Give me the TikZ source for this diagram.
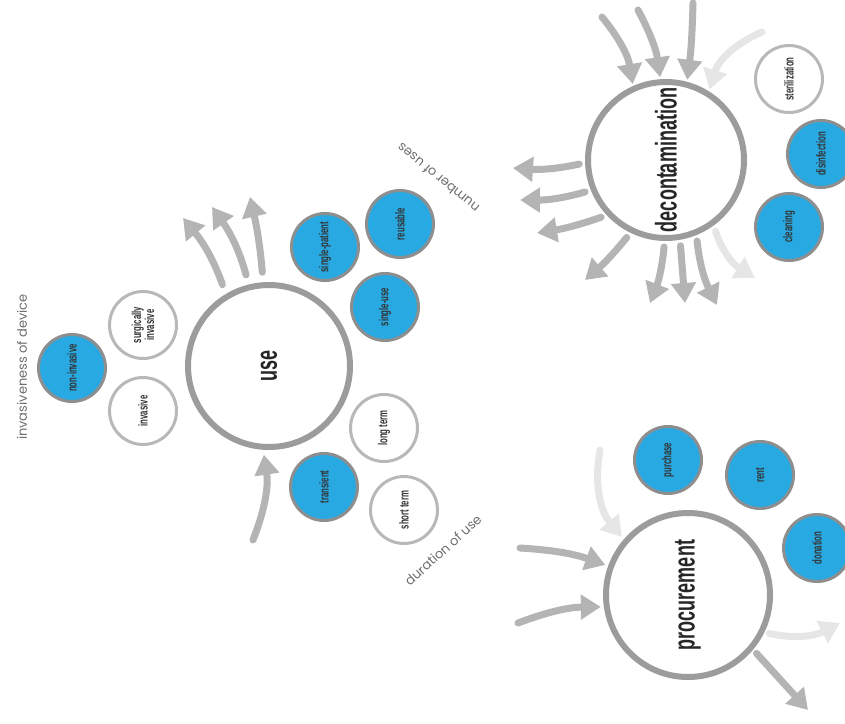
\documentclass[tikz,border=0pt]{standalone}
\usepackage{fontspec}
\usetikzlibrary{arrows.meta, positioning}
\newfontfamily\condfont[FakeStretch=0.6]{Liberation Sans}
\newfontfamily\labelfont{Poppins}
\definecolor{cblue}{HTML}{29A9E1}
\definecolor{cring}{HTML}{9C9C9C}
\definecolor{crim}{HTML}{8E8E8E}
\definecolor{cwire}{HTML}{B8B8B8}
\definecolor{carrow}{HTML}{B4B4B4}
\definecolor{cpale}{HTML}{E6E6E6}
\definecolor{ctext}{HTML}{6E6E6E}
\tikzset{
  stage/.style={circle, draw=cring, line width=6pt, fill=white, inner sep=0pt, font=\condfont\bfseries\fontsize{30}{30}\selectfont, text=black!85},
  choice/.style={circle, line width=3pt, minimum size=67pt, inner sep=0pt, align=center, rotate=90, font=\condfont\bfseries\fontsize{13}{12}\selectfont, text=black!80},
  picked/.style={choice, draw=crim, fill=cblue},
  unpicked/.style={choice, draw=cwire, fill=white},
  axis/.style={font=\labelfont\fontsize{13}{13}\selectfont, text=ctext},
  flow/.style={draw=carrow, line width=7pt, line cap=round, -{Triangle[width=24pt,length=20pt]}},
  faint/.style={flow, draw=cpale},
}
\begin{document}
\begin{tikzpicture}[x=1pt, y=-1pt]
  \useasboundingbox (0,0) rectangle (845,723);
  % stages
  \node[stage, minimum size=162pt] (use) at (269,366) {\rotatebox{90}{use}};
  \node[stage, minimum size=156pt] (decon) at (666,160) {\rotatebox{90}{decontamination}};
  \node[stage, minimum size=164pt] (proc) at (688,595) {\rotatebox{90}{procurement}};
  % use: options
  \node[picked] (noninv) at (72,368) {non-invasive};
  \node[unpicked] (surginv) at (143,325) {surgically\\invasive};
  \node[unpicked] (inv) at (143,411) {invasive};
  \node[picked] (singpat) at (325,247) {single-patient};
  \node[picked] (reuse) at (400,224) {reusable};
  \node[picked] (singuse) at (385,307) {single-use};
  \node[unpicked] (longt) at (384,428) {long term};
  \node[picked] (trans) at (324,487) {transient};
  \node[unpicked] (shortt) at (404,510) {short term};
  \node[axis, rotate=90] (invlbl) at (22,367) {invasiveness of device};
  \node[axis, rotate=141] (useslbl) at (438,178) {number of uses};
  \node[axis, rotate=42] (durlbl) at (443,550) {duration of use};
  % decontamination: options
  \node[unpicked] (steril) at (789,79) {sterilization};
  \node[picked] (disinf) at (821,154) {disinfection};
  \node[picked] (clean) at (789,227) {cleaning};
  % procurement: options
  \node[picked] (purch) at (668,460) {purchase};
  \node[picked] (rent) at (760,475) {rent};
  \node[picked] (donat) at (817,548) {donation};
  % free ends
  \coordinate (u0) at (253,540);
  \coordinate (u1) at (183,218);
  \coordinate (u2) at (212,207);
  \coordinate (u3) at (250,197);
  \coordinate (d1) at (602,17);
  \coordinate (d2) at (638,10);
  \coordinate (d3) at (693,3);
  \coordinate (d4) at (762,32);
  \coordinate (e1) at (513,168);
  \coordinate (e2) at (520,200);
  \coordinate (e3) at (537,233);
  \coordinate (e4) at (585,280);
  \coordinate (e5) at (650,303);
  \coordinate (e6) at (685,303);
  \coordinate (e7) at (717,305);
  \coordinate (e8) at (755,278);
  \coordinate (p1) at (520,548);
  \coordinate (p2) at (518,623);
  \coordinate (p3) at (600,450);
  \coordinate (q1) at (840,623);
  \coordinate (q2) at (808,710);
  % use arrows
  \draw[flow, shorten >=5pt] (u0) to[bend right=15] (use.266);
  \draw[flow, shorten <=10pt] (use.121) to[bend right=10] (u1);
  \draw[flow, shorten <=10pt] (use.104) to[bend right=10] (u2);
  \draw[flow, shorten <=10pt] (use.94) to[bend right=4] (u3);
  % decontamination arrows
  \draw[flow, shorten >=2pt] (d1) to[bend left=15] (decon.114);
  \draw[flow, shorten >=2pt] (d2) to[bend left=10] (decon.94);
  \draw[flow, shorten >=2pt] (d3) to[bend left=3] (decon.75);
  \draw[faint, shorten >=2pt] (d4) to[bend right=25] (decon.58);
  \draw[flow, shorten <=6pt] (decon.182) to[bend left=8] (e1);
  \draw[flow, shorten <=6pt] (decon.202) to[bend left=8] (e2);
  \draw[flow, shorten <=6pt] (decon.223) to[bend left=5] (e3);
  \draw[flow, shorten <=6pt] (decon.244) to[bend left=5] (e4);
  \draw[flow, shorten <=6pt] (decon.269) to[bend left=8] (e5);
  \draw[flow, shorten <=6pt] (decon.280) to (e6);
  \draw[flow, shorten <=6pt] (decon.292) to[bend right=10] (e7);
  \draw[faint, shorten <=6pt] (decon.306) to[bend right=20] (e8);
  % procurement arrows
  \draw[flow, shorten >=3pt] (p1) to[bend left=8] (proc.160);
  \draw[flow, shorten >=3pt] (p2) to[bend left=10] (proc.188);
  \draw[faint, shorten >=3pt] (p3) to[bend right=25] (proc.139);
  \draw[faint, shorten <=5pt] (proc.334) to[bend right=20] (q1);
  \draw[flow, shorten <=5pt] (proc.320) to (q2);
\end{tikzpicture}
\end{document}
